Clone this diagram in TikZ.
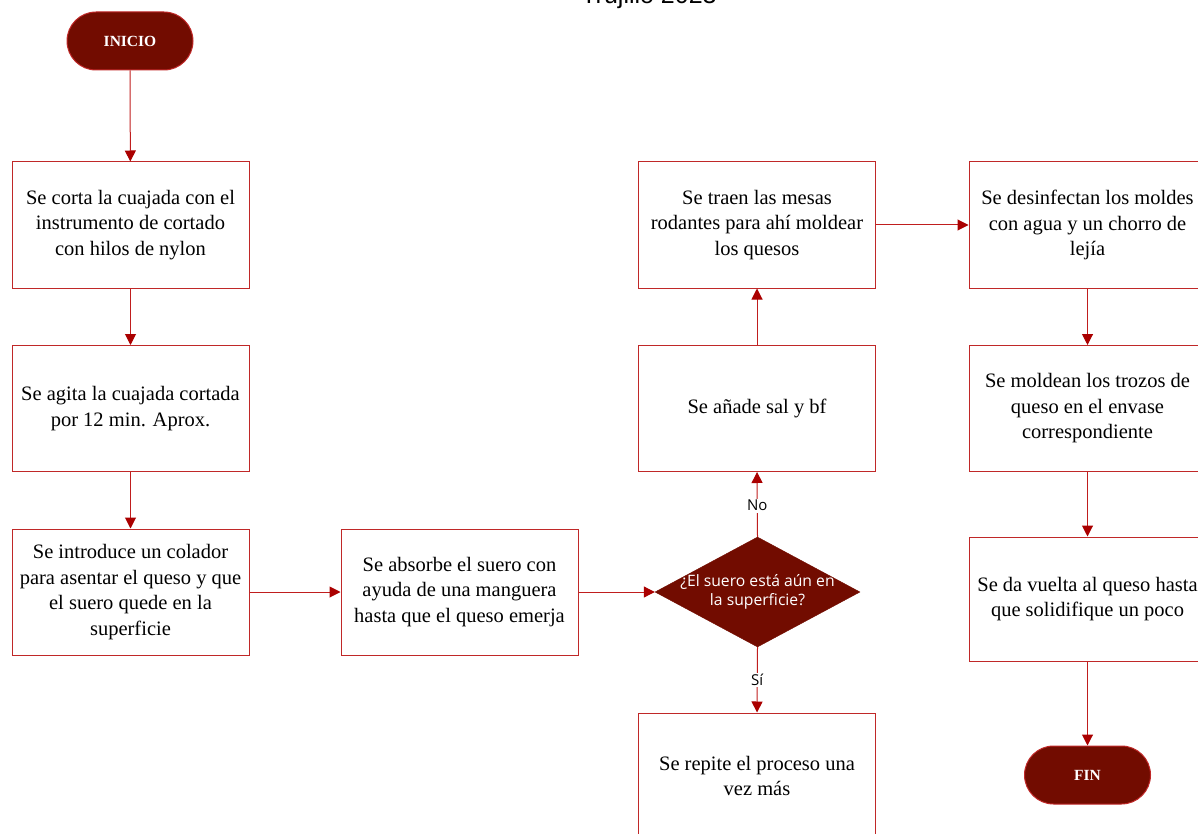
\documentclass[tikz,border=0pt]{standalone}
\usepackage{fontspec}
\setmainfont{Liberation Serif}
\newfontfamily\labelfont{Open Sans}
\newfontfamily\titlefont{Liberation Sans}
\usetikzlibrary{arrows.meta,shapes.geometric}

\definecolor{boxline}{RGB}{192,40,40}
\definecolor{flowline}{RGB}{192,30,30}
\definecolor{tipred}{RGB}{170,0,0}
\definecolor{termfill}{RGB}{114,12,0}

\tikzset{
  stepbox/.style={draw=boxline, line width=1pt, fill=white, rectangle,
    minimum width=237pt, minimum height=126pt, inner sep=0pt,
    align=center, font=\fontsize{20.5}{25.5}\selectfont},
  terminal/.style={draw=boxline, line width=1pt, fill=termfill, rectangle,
    rounded corners=29pt, minimum width=126pt, minimum height=58pt,
    text=white, font=\bfseries\fontsize{15.5}{18}\selectfont},
  decision/.style={diamond, draw=termfill, fill=termfill,
    minimum width=205pt, minimum height=110pt, inner sep=0pt},
  flow/.style={draw=flowline, line width=1pt,
    -{Triangle[length=11pt,width=11pt,fill=tipred,color=tipred]}},
  branch/.style={fill=white, inner sep=1.5pt, text=black,
    font=\labelfont\fontsize{15}{18}\selectfont},
}

\begin{document}
\begin{tikzpicture}[x=1pt,y=-1pt]
\useasboundingbox (0,0) rectangle (1198,834);

% heading, partly above the page edge
\node[anchor=base, font=\titlefont\fontsize{25}{30}\selectfont] (title) at (649,4) {Trujillo 2023};

% left column
\node[terminal] (inicio) at (130,41) {INICIO};
\node[stepbox] (corta) at (130.5,225) {Se corta la cuajada con el\\instrumento de cortado\\con hilos de nylon};
\node[stepbox] (agita) at (130.5,408.5) {Se agita la cuajada cortada\\por 12 min. Aprox.};
\node[stepbox] (colador) at (130.5,592) {Se introduce un colador\\para asentar el queso y que\\el suero quede en la\\superficie};

% middle
\node[stepbox] (absorbe) at (459.5,592) {Se absorbe el suero con\\ayuda de una manguera\\hasta que el queso emerja};
\node[decision] (suero) at (757.5,592) {};
\node[text=white, align=center, font=\labelfont\fontsize{15.7}{19.5}\selectfont] (suerotxt) at (757.5,592) {¿El suero está aún en\\la superficie?};
\node[stepbox] (sal) at (757,408.5) {Se añade sal y bf};
\node[stepbox] (mesas) at (757,225) {Se traen las mesas\\rodantes para ahí moldear\\los quesos};
\node[stepbox] (repite) at (757,776) {Se repite el proceso una\\vez más};

% right column
\node[stepbox] (moldes) at (1087.5,225) {Se desinfectan los moldes\\con agua y un chorro de\\lejía};
\node[stepbox] (trozos) at (1087.5,408.5) {Se moldean los trozos de\\queso en el envase\\correspondiente};
\node[stepbox, minimum height=124pt] (vuelta) at (1087.5,599) {Se da vuelta al queso hasta\\que solidifique un poco};
\node[terminal] (fin) at (1087.5,775) {FIN};

% connectors
\draw[flow] (inicio) -- (corta);
\draw[flow] (corta) -- (agita);
\draw[flow] (agita) -- (colador);
\draw[flow] (colador) -- (absorbe);
\draw[flow] (absorbe) -- (suero.west);
\draw[flow] (suero.north) -- node[branch, pos=0.48] (no) {No} (sal.south);
\draw[flow] (suero.south) -- node[branch, pos=0.5] (si) {Sí} (repite.north);
\draw[flow] (sal) -- (mesas);
\draw[flow] (mesas) -- (moldes);
\draw[flow] (moldes) -- (trozos);
\draw[flow] (trozos) -- (vuelta);
\draw[flow] (vuelta) -- (fin);
\end{tikzpicture}
\end{document}
